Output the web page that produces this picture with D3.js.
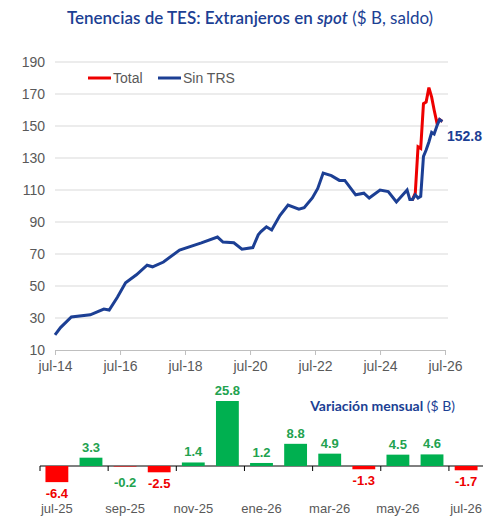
<!DOCTYPE html>
<html><head><meta charset="utf-8">
<script src="https://cdn.jsdelivr.net/npm/d3@7"></script>
<style>body{margin:0;background:#fff}text{font-family:"Liberation Sans",Arial,sans-serif}</style>
</head><body><div id="chart"></div>
<script>
// saldo series
var sinDates = ["2014-07","2014-09","2015-01","2015-08","2016-01","2016-03","2016-06","2016-09","2017-01","2017-05","2017-07","2017-11","2018-05","2019-01","2019-07","2019-09","2020-01","2020-04","2020-08","2020-10","2020-11","2021-01","2021-03","2021-06","2021-09","2022-01","2022-03","2022-06","2022-08","2022-10","2023-01","2023-04","2023-06","2023-10","2024-01","2024-03","2024-07","2024-10","2025-01","2025-05","2025-06","2025-07","2025-08","2025-09","2025-10","2025-11","2025-12","2026-01","2026-02","2026-03","2026-04","2026-05","2026-06"];
var sinVals = [19.4,24,30.6,32,35.6,35,43,52,57,63,62,65,72.5,77,80.6,77.5,77,73,74,82,84,87,85,94,100.6,98,99,105,111,120.6,119,116,116,107,108,105,110,109,102.5,110,104,104,107,105,106,131,135,140,146,145,150,154,152.8];
var totDates = ["2025-07","2025-08","2025-09","2025-10","2025-11","2025-12","2026-01","2026-02","2026-03","2026-04","2026-05","2026-06"];
var totVals = [104,108,137,136,164,165,174,168,160,152,154,152.8];
var yTicks = [10,30,50,70,90,110,130,150,170,190];
var xTickLabels = ["jul-14","jul-16","jul-18","jul-20","jul-22","jul-24","jul-26"];

// variación mensual
var months = ["jul-25","ago-25","sep-25","oct-25","nov-25","dic-25","ene-26","feb-26","mar-26","abr-26","may-26","jun-26","jul-26"];
var changes = [-6.4,3.3,-0.2,-2.5,1.4,25.8,1.2,8.8,4.9,-1.3,4.5,4.6,-1.7];

var blue = "#1c3f94", red = "#ee0000", green = "#00b050", gray = "#595959";
var parse = d3.timeParse("%Y-%m");
var svg = d3.select("#chart").append("svg").attr("width", 500).attr("height", 519);

// title
var t = svg.append("text").attr("x", 250).attr("y", 24).attr("text-anchor", "middle")
  .attr("fill", blue).style("font-family", "Lato, sans-serif").style("font-size", "17px");
t.append("tspan").attr("font-weight", "600").text("Tenencias de TES: Extranjeros en ");
t.append("tspan").attr("font-weight", "600").attr("font-style", "italic").text("spot");
t.append("tspan").text(" ($ B, saldo)");

var x = d3.scaleTime().domain([parse("2014-07"), parse("2026-07")]).range([55, 445]);
var y = d3.scaleLinear().domain([10, 190]).range([350, 62]);

svg.append("g").selectAll("line").data(yTicks.slice(1)).join("line")
  .attr("x1", 55).attr("x2", 448).attr("y1", d => y(d)).attr("y2", d => y(d))
  .attr("stroke", "#d9d9d9");
svg.append("g").selectAll("text").data(yTicks).join("text")
  .attr("x", 45).attr("y", d => y(d) + 5).attr("text-anchor", "end")
  .attr("fill", gray).style("font-size", "14px").text(d => d);

var xAxis = svg.append("g").attr("transform", "translate(0,350)")
  .call(d3.axisBottom(x).tickValues(xTickLabels.map(d3.timeParse("%b-%y"))).tickSize(5).tickFormat((d, i) => xTickLabels[i]));
xAxis.select(".domain").attr("stroke", "#bfbfbf");
xAxis.selectAll("line").attr("stroke", "#bfbfbf");
xAxis.selectAll("text").attr("fill", gray).style("font-size", "14px").attr("dy", "0.9em");

var line = d3.line().x(d => x(d[0])).y(d => y(d[1]));
var sinData = sinDates.map((d, i) => [parse(d), sinVals[i]]);
var totData = [[parse("2025-06"), 104]].concat(totDates.map((d, i) => [parse(d), totVals[i]]));
svg.append("path").datum(totData).attr("d", line).attr("fill", "none").attr("stroke", red).attr("stroke-width", 3);
svg.append("path").datum(sinData).attr("d", line).attr("fill", "none").attr("stroke", blue).attr("stroke-width", 3);
svg.append("text").attr("x", 447).attr("y", 141).attr("fill", blue).attr("font-weight", "bold")
  .style("font-size", "14px").text(sinVals[sinVals.length - 1]);

// legend
[["Total", red, 88], ["Sin TRS", blue, 158]].forEach(function(l) {
  svg.append("line").attr("x1", l[2]).attr("x2", l[2] + 23).attr("y1", 78).attr("y2", 78).attr("stroke", l[1]).attr("stroke-width", 3);
  svg.append("text").attr("x", l[2] + 25).attr("y", 83).attr("fill", gray).style("font-size", "14px").text(l[0]);
});

// bar chart
var xb = d3.scaleBand().domain(months).range([40, 483]).paddingInner(0.33).paddingOuter(0.16);
var yb = d3.scaleLinear().domain([0, 25.8]).range([466, 401]);
svg.append("line").attr("x1", 40).attr("x2", 483).attr("y1", 466).attr("y2", 466).attr("stroke", "#000");
var step = 443 / 13;
svg.append("g").selectAll("line").data(d3.range(0, 14, 2)).join("line")
  .attr("x1", d => 40 + d * step).attr("x2", d => 40 + d * step).attr("y1", 466).attr("y2", 471).attr("stroke", "#000");
svg.append("g").selectAll("rect").data(changes).join("rect")
  .attr("x", (d, i) => xb(months[i])).attr("width", xb.bandwidth())
  .attr("y", d => Math.min(yb(d), yb(0))).attr("height", d => Math.abs(yb(d) - yb(0)))
  .attr("fill", d => d >= 0 ? green : "#ff0000");
svg.append("g").selectAll("text").data(changes).join("text")
  .attr("x", (d, i) => xb(months[i]) + xb.bandwidth() / 2)
  .attr("y", d => d >= 0 ? yb(d) - 6 : (d > -1 ? 487 : yb(d) + 16))
  .attr("text-anchor", "middle").attr("font-weight", "bold").style("font-size", "13px")
  .attr("fill", d => d > -1 ? "#22a24f" : red).text(d => d.toFixed(1));
svg.append("g").selectAll("text").data(months.filter((d, i) => i % 2 == 0)).join("text")
  .attr("x", d => xb(d) + xb.bandwidth() / 2).attr("y", 513).attr("text-anchor", "middle")
  .attr("fill", gray).style("font-size", "13px").text(d => d);
var vt = svg.append("text").attr("x", 455).attr("y", 411).attr("text-anchor", "end").attr("fill", blue)
  .style("font-family", "Lato, sans-serif").style("font-size", "14px");
vt.append("tspan").attr("font-weight", "bold").text("Variación mensual");
vt.append("tspan").text(" ($ B)");
</script></body></html>
